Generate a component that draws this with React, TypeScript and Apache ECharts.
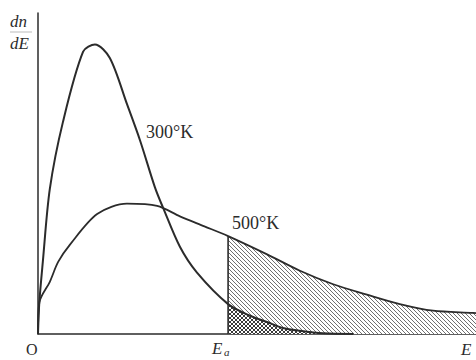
import { useEffect, useRef } from "react";
import * as echarts from "echarts";

// Energy (arbitrary units, 0..10) and dn/dE (arbitrary units, 0..102)
const energy300 = [0, 0.03, 0.11, 0.27, 0.57, 1.03, 1.3, 1.64, 2.03, 2.33, 2.67, 2.85, 3.24, 3.63, 4.34, 4.84, 5.23, 5.59, 5.98, 6.51, 7.2];
const dn300 = [0, 10, 22.9, 46.1, 67.4, 89.7, 92.0, 87.7, 73.1, 61.5, 46.6, 40.3, 27.7, 19.5, 9.5, 5.8, 3.8, 1.9, 1.0, 0.2, 0];
const energy500 = [0, 0.03, 0.27, 0.46, 0.73, 1.35, 2.03, 2.72, 3.24, 3.8, 4.34, 5.23, 5.98, 6.74, 7.51, 8.26, 9.02, 9.93, 10];
const dn500 = [0, 10, 16.6, 22.9, 28.4, 38.1, 41.4, 40.7, 37.4, 34.2, 31.1, 25.3, 20.1, 15.8, 12.5, 9.5, 7.4, 6.7, 6.6];
const activationEnergy = 4.34;
const curveLabels = ["300°K", "500°K"];
const axisLabels = { origin: "O", energy: "E", activation: "E", activationSub: "a", yTop: "dn", yBottom: "dE" };
const xMax = 10;
const yMax = 102;

const INK = "#2b2b2b";
const FONT = "'Liberation Serif', 'DejaVu Serif', serif";

function makePattern(cross: boolean): HTMLCanvasElement {
  const s = 4;
  const c = document.createElement("canvas");
  c.width = s;
  c.height = s;
  const ctx = c.getContext("2d")!;
  ctx.fillStyle = "#ffffff";
  ctx.fillRect(0, 0, s, s);
  ctx.strokeStyle = cross ? "#3a3a3a" : "#707070";
  ctx.lineWidth = 1;
  for (const o of [-s, 0, s]) {
    ctx.beginPath();
    ctx.moveTo(o, 0);
    ctx.lineTo(o + s, s);
    ctx.stroke();
  }
  if (cross) {
    for (const o of [-s, 0, s]) {
      ctx.beginPath();
      ctx.moveTo(o + s, 0);
      ctx.lineTo(o, s);
      ctx.stroke();
    }
  }
  return c;
}

function pairs(xs: number[], ys: number[]) {
  return xs.map((x, i) => [x, ys[i]]);
}

export default function App() {
  const ref = useRef<HTMLDivElement>(null);
  useEffect(() => {
    if (!ref.current) return;
    const chart = echarts.init(ref.current, undefined, { renderer: "svg" });
    const curve300 = pairs(energy300, dn300);
    const curve500 = pairs(energy500, dn500);
    const tail300 = curve300.filter((p) => p[0] >= activationEnergy);
    const tail500 = curve500.filter((p) => p[0] >= activationEnergy);
    const eaIdx = energy500.indexOf(activationEnergy);
    const edge = [[activationEnergy, 0], [activationEnergy, dn500[eaIdx]]];

    const lineCommon = {
      type: "line" as const,
      showSymbol: false,
      symbol: "none",
      smooth: 0.3,
      silent: true,
    };

    chart.setOption({
      animation: false,
      backgroundColor: "#ffffff",
      grid: { left: 38, right: 0, top: 13, bottom: 26 },
      xAxis: {
        type: "value",
        min: 0,
        max: xMax,
        axisLine: { show: true, onZero: false, lineStyle: { color: INK, width: 1.5 } },
        axisTick: { show: false },
        axisLabel: { show: false },
        splitLine: { show: false },
      },
      yAxis: {
        type: "value",
        min: 0,
        max: yMax,
        axisLine: { show: true, onZero: false, lineStyle: { color: INK, width: 1.5 } },
        axisTick: { show: false },
        axisLabel: { show: false },
        splitLine: { show: false },
      },
      series: [
        {
          ...lineCommon,
          name: "500 tail",
          data: tail500,
          z: 1,
          lineStyle: { width: 0, opacity: 0 },
          areaStyle: { color: { image: makePattern(false), repeat: "repeat" }, opacity: 1 },
        },
        {
          ...lineCommon,
          name: "300 tail",
          data: tail300,
          z: 2,
          lineStyle: { width: 0, opacity: 0 },
          areaStyle: { color: { image: makePattern(true), repeat: "repeat" }, opacity: 1 },
        },
        {
          ...lineCommon,
          name: "Ea edge",
          smooth: false,
          data: edge,
          z: 3,
          lineStyle: { color: INK, width: 1.6 },
        },
        {
          ...lineCommon,
          name: curveLabels[0],
          data: curve300,
          z: 4,
          lineStyle: { color: INK, width: 2 },
        },
        {
          ...lineCommon,
          name: curveLabels[1],
          data: curve500,
          z: 4,
          lineStyle: { color: INK, width: 1.8 },
        },
      ],
      graphic: [
        { type: "text", left: 146, top: 123, style: { text: curveLabels[0], font: `18px ${FONT}`, fill: INK } },
        { type: "text", left: 232, top: 214, style: { text: curveLabels[1], font: `18px ${FONT}`, fill: INK } },
        { type: "text", x: 10, y: 13, style: { text: axisLabels.yTop, font: `italic 17px ${FONT}`, fill: INK } },
        { type: "line", shape: { x1: 10, y1: 32, x2: 32, y2: 32 }, style: { stroke: "#bbbbbb", lineWidth: 1 } },
        { type: "text", x: 10, y: 35, style: { text: axisLabels.yBottom, font: `italic 17px ${FONT}`, fill: INK } },
        { type: "text", x: 26, y: 341, style: { text: axisLabels.origin, font: `16px ${FONT}`, fill: INK } },
        { type: "text", x: 212, y: 340, style: { text: axisLabels.activation, font: `italic 17px ${FONT}`, fill: INK } },
        { type: "text", x: 224, y: 346, style: { text: axisLabels.activationSub, font: `italic 11px ${FONT}`, fill: INK } },
        { type: "text", x: 461, y: 341, style: { text: axisLabels.energy, font: `italic 17px ${FONT}`, fill: INK } },
      ],
    });
    return () => chart.dispose();
  }, []);
  return <div ref={ref} style={{ width: 476, height: 360, position: "fixed", left: 0, top: 0 }} />;
}
